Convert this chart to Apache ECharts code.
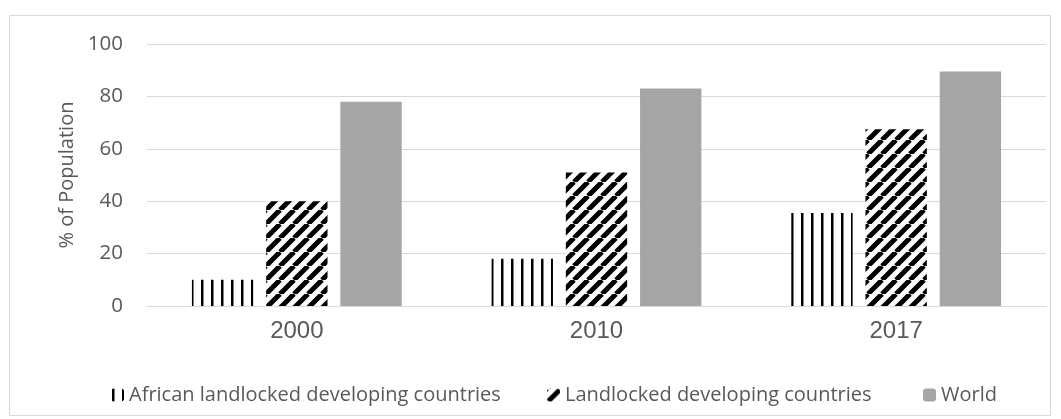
<!DOCTYPE html>
<html>
<head>
<meta charset="utf-8">
<script src="https://cdn.jsdelivr.net/npm/echarts@6/dist/echarts.min.js"></script>
<style>
  html, body { margin: 0; padding: 0; background: #fff; }
  #main { width: 1061px; height: 419px; }
</style>
</head>
<body>
<div id="main"></div>
<script>
var years = ['2000', '2010', '2017'];
var africanLldc = [10, 18, 35.5];
var allLldc = [40, 51, 67.5];
var world = [78, 83, 89.5];
var seriesNames = ['African landlocked developing countries', 'Landlocked developing countries', 'World'];

// vertical stripes
function vertPattern() {
    var c = document.createElement('canvas');
    c.width = 10; c.height = 10;
    var ctx = c.getContext('2d');
    ctx.fillStyle = '#fff';
    ctx.fillRect(0, 0, 10, 10);
    ctx.fillStyle = '#000';
    ctx.fillRect(1, 0, 2.5, 10);
    return c;
}

// wide diagonal stripes
function diagPattern() {
    var s = 14;
    var c = document.createElement('canvas');
    c.width = s; c.height = s;
    var ctx = c.getContext('2d');
    ctx.fillStyle = '#fff';
    ctx.fillRect(0, 0, s, s);
    ctx.strokeStyle = '#000';
    ctx.lineWidth = 5;
    ctx.beginPath();
    for (var k = -1; k <= 1; k++) {
        ctx.moveTo(k * s, s);
        ctx.lineTo(k * s + s, 0);
    }
    ctx.stroke();
    return c;
}

// one legend per item so each can sit where the original has it
var legendLeft = [106, 542, 918];
var legends = [];
for (let i = 0; i < seriesNames.length; ++i) {
    legends.push({
        top: 380,
        left: legendLeft[i],
        itemWidth: 13,
        itemHeight: 13,
        itemGap: 4,
        textStyle: { fontFamily: 'Open Sans', fontSize: 20, color: '#595959' },
        data: [seriesNames[i]]
    });
}

var myChart = echarts.init(document.getElementById('main'));
var option = {
    backgroundColor: '#fff',
    animation: false,
    graphic: [{
        type: 'rect',
        shape: { x: 9.5, y: 15.5, width: 1041, height: 400 },
        style: { fill: 'none', stroke: '#d9d9d9', lineWidth: 1 }
    }],
    grid: { left: 147, right: 15, top: 44, bottom: 113 },
    legend: legends,
    xAxis: {
        type: 'category',
        data: years,
        axisLine: { lineStyle: { color: '#d9d9d9' } },
        axisTick: { show: false },
        axisLabel: { fontFamily: 'Liberation Sans', fontSize: 24, color: '#595959', margin: 13 }
    },
    yAxis: {
        type: 'value',
        min: 0,
        max: 100,
        interval: 20,
        name: '% of Population',
        nameLocation: 'middle',
        nameGap: 63,
        nameTextStyle: { fontFamily: 'Open Sans', fontSize: 20, color: '#595959' },
        axisLine: { show: false },
        axisTick: { show: false },
        splitLine: { lineStyle: { color: '#d9d9d9' } },
        axisLabel: { fontFamily: 'Open Sans', fontSize: 20.5, color: '#595959', margin: 24 }
    },
    series: [
        {
            name: seriesNames[0], type: 'bar', data: africanLldc,
            barGap: '21%', barCategoryGap: '30%',
            itemStyle: { color: { image: vertPattern(), repeat: 'repeat' } }
        },
        {
            name: seriesNames[1], type: 'bar', data: allLldc,
            itemStyle: { color: { image: diagPattern(), repeat: 'repeat' } }
        },
        {
            name: seriesNames[2], type: 'bar', data: world,
            itemStyle: { color: '#a5a5a5' }
        }
    ]
};
myChart.setOption(option);
</script>
</body>
</html>
